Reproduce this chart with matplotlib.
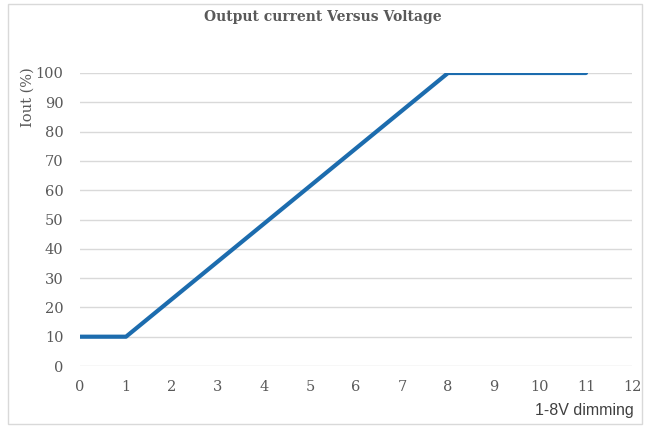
import matplotlib.pyplot as plt
from matplotlib.patches import Rectangle

# Data
voltage = [0, 1, 8, 11]
iout = [10, 10, 100, 100]
x_ticks = list(range(0, 13))
y_ticks = list(range(0, 101, 10))

grey = '#595959'
grid_col = '#D9D9D9'

fig = plt.figure(figsize=(6.46, 4.30), dpi=100)
ax = fig.add_axes([80/646, 1 - 366/430, (632 - 80)/646, (366 - 73)/430])

ax.plot(voltage, iout, color='#1C6CAE', linewidth=3, solid_capstyle='round', zorder=3)

ax.set_xlim(0, 12)
ax.set_ylim(0, 100)
ax.set_xticks(x_ticks)
ax.set_yticks(y_ticks)
ax.yaxis.grid(True, color=grid_col, linewidth=1)
ax.set_axisbelow(True)
for s in ax.spines.values():
    s.set_visible(False)
ax.tick_params(length=0, labelsize=10.5, labelcolor=grey)
ax.tick_params(axis='x', pad=10)
ax.tick_params(axis='y', pad=12)
for lbl in ax.get_xticklabels() + ax.get_yticklabels():
    lbl.set_family('DejaVu Serif')

fig.text(0.5, 1 - 17/430, 'Output current Versus Voltage', ha='center', va='center',
         family='DejaVu Serif', fontweight='bold', fontsize=10, color=grey)
fig.text(28/646, 1 - 97/430, 'Iout (%)', ha='center', va='center', rotation=90,
         family='DejaVu Serif', fontsize=10.5, color=grey)
fig.text(634/646, 1 - 411/430, '1-8V dimming', ha='right', va='center',
         family='Liberation Sans', fontsize=11.5, color='#404040')

# light border around the chart area
fig.patches.append(Rectangle((8/646, 6/430), 634/646, 420/430, transform=fig.transFigure,
                             fill=False, edgecolor='#D9D9D9', linewidth=1))

fig.savefig('out.png', dpi=100)
